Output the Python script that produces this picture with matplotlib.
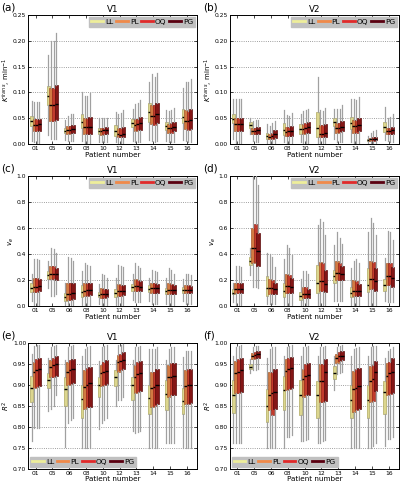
import numpy as np
import matplotlib
matplotlib.use("Agg")
import matplotlib.pyplot as plt
from matplotlib.lines import Line2D

patients = ["01", "05", "06", "08", "10", "12", "13", "14", "15", "16"]
methods = ["LL", "PL", "OQ", "PG"]

# each row: (whisker low, q1, median, q3, whisker high), one row per patient
ktrans_v1_LL = [(.005, .035, .045, .055, .083), (.018, .075, .093, .113, .172), (.008, .021, .025, .031, .046),
                (.005, .030, .042, .058, .100), (.003, .020, .025, .031, .050), (.003, .016, .025, .036, .062),
                (.005, .032, .040, .048, .067), (.008, .042, .062, .080, .120), (.005, .026, .034, .043, .066),
                (.008, .040, .053, .068, .108)]
ktrans_v1_PL = [(.003, .025, .037, .048, .082), (.010, .045, .075, .108, .200), (.005, .020, .026, .034, .055),
                (.002, .020, .032, .050, .093), (.003, .018, .025, .031, .050), (.001, .013, .020, .030, .058),
                (.003, .025, .037, .048, .077), (.005, .038, .055, .075, .135), (.003, .022, .030, .038, .063),
                (.005, .028, .045, .065, .120)]
ktrans_v1_OQ = [(.002, .025, .037, .048, .081), (.010, .045, .075, .108, .200), (.005, .021, .027, .035, .057),
                (.002, .020, .032, .050, .092), (.003, .019, .026, .031, .050), (.001, .013, .018, .030, .060),
                (.003, .026, .038, .049, .080), (.004, .037, .055, .075, .130), (.003, .022, .031, .040, .066),
                (.004, .027, .045, .063, .120)]
ktrans_v1_PG = [(.002, .025, .038, .048, .081), (.010, .046, .078, .115, .216), (.005, .022, .028, .037, .058),
                (.001, .019, .032, .052, .098), (.003, .020, .027, .033, .050), (.001, .013, .019, .032, .065),
                (.003, .027, .040, .053, .085), (.005, .040, .058, .080, .137), (.003, .024, .032, .042, .070),
                (.004, .028, .046, .068, .126)]

ktrans_v2_LL = [(.010, .040, .048, .058, .087), (.019, .030, .037, .043, .051), (.002, .010, .016, .022, .038),
                (.003, .018, .027, .040, .066), (.003, .020, .029, .038, .058), (.001, .014, .030, .062, .130),
                (.010, .035, .043, .050, .067), (.003, .028, .040, .053, .088), (.002, .005, .007, .010, .015),
                (.007, .023, .032, .043, .072)]
ktrans_v2_PL = [(.002, .025, .038, .050, .087), (.005, .019, .024, .031, .045), (.001, .010, .014, .020, .035),
                (.002, .016, .023, .033, .056), (.002, .020, .028, .038, .063), (.001, .013, .020, .036, .065),
                (.003, .022, .030, .040, .067), (.001, .022, .035, .047, .088), (.001, .006, .009, .012, .022),
                (.005, .019, .025, .030, .050)]
ktrans_v2_OQ = [(.001, .025, .038, .050, .087), (.004, .019, .025, .031, .046), (.001, .010, .016, .022, .040),
                (.001, .016, .024, .033, .055), (.002, .021, .030, .040, .066), (.001, .013, .020, .036, .064),
                (.003, .023, .031, .040, .068), (.001, .022, .034, .047, .085), (.001, .006, .009, .013, .025),
                (.004, .019, .025, .031, .053)]
ktrans_v2_PG = [(.001, .025, .038, .050, .087), (.004, .020, .026, .032, .047), (.001, .012, .019, .027, .045),
                (.001, .016, .025, .034, .060), (.002, .022, .032, .043, .068), (.001, .014, .022, .038, .070),
                (.003, .024, .033, .045, .075), (.001, .024, .037, .050, .090), (.001, .007, .010, .014, .027),
                (.004, .020, .027, .033, .057)]

ve_v1_LL = [(.04, .11, .14, .18, .25), (.14, .21, .24, .27, .35), (.005, .04, .07, .10, .18),
            (.01, .07, .11, .16, .27), (.02, .07, .085, .11, .17), (.01, .07, .10, .13, .22),
            (.05, .12, .145, .17, .25), (.04, .11, .13, .16, .22), (.02, .09, .115, .14, .22),
            (.04, .10, .125, .15, .21)]
ve_v1_PL = [(.01, .11, .15, .22, .36), (.08, .21, .245, .31, .45), (.005, .05, .095, .18, .38),
            (.01, .08, .12, .18, .33), (.01, .065, .095, .14, .25), (.01, .08, .115, .17, .32),
            (.03, .12, .155, .21, .33), (.02, .10, .14, .18, .28), (.01, .09, .125, .175, .29),
            (.02, .10, .125, .165, .25)]
ve_v1_OQ = [(.01, .11, .15, .22, .36), (.08, .21, .245, .31, .44), (.005, .05, .095, .18, .37),
            (.01, .08, .125, .18, .32), (.01, .065, .095, .135, .24), (.01, .08, .115, .165, .31),
            (.03, .12, .155, .20, .31), (.02, .10, .14, .175, .27), (.01, .09, .125, .17, .28),
            (.02, .10, .125, .16, .245)]
ve_v1_PG = [(.01, .115, .155, .21, .355), (.09, .20, .245, .29, .41), (.005, .055, .10, .175, .35),
            (.01, .085, .125, .175, .31), (.01, .07, .095, .13, .22), (.01, .085, .12, .16, .30),
            (.03, .12, .15, .19, .29), (.02, .10, .14, .17, .26), (.01, .09, .125, .16, .25),
            (.02, .10, .125, .155, .24)]

ve_v2_LL = [(.03, .09, .105, .13, .18), (.24, .32, .35, .38, .45), (.02, .08, .14, .23, .41),
            (.01, .07, .12, .18, .36), (.01, .05, .08, .11, .21), (.01, .10, .18, .32, .62),
            (.04, .18, .23, .28, .47), (.01, .07, .10, .15, .29), (.01, .11, .16, .29, .57),
            (.04, .12, .16, .21, .37)]
ve_v2_PL = [(.005, .10, .13, .18, .31), (.15, .33, .445, .60, 1.0), (.02, .09, .14, .21, .40),
            (.01, .10, .155, .25, .47), (.005, .06, .09, .15, .27), (.01, .12, .195, .34, .67),
            (.04, .20, .255, .35, .57), (.01, .08, .12, .20, .35), (.01, .13, .205, .35, .68),
            (.03, .16, .23, .33, .58)]
ve_v2_OQ = [(.005, .10, .13, .18, .31), (.15, .34, .45, .63, 1.0), (.02, .09, .14, .20, .38),
            (.01, .10, .155, .24, .45), (.005, .06, .095, .15, .27), (.01, .12, .195, .33, .65),
            (.04, .20, .255, .33, .52), (.01, .08, .12, .19, .36), (.01, .13, .205, .34, .64),
            (.03, .16, .23, .33, .57)]
ve_v2_PG = [(.005, .10, .13, .18, .30), (.14, .31, .42, .56, .93), (.02, .09, .13, .18, .30),
            (.01, .10, .15, .22, .39), (.005, .065, .095, .13, .25), (.01, .11, .17, .28, .55),
            (.04, .20, .245, .31, .48), (.01, .08, .12, .17, .33), (.01, .12, .195, .29, .55),
            (.03, .15, .22, .30, .51)]

r2_v1_LL = [(.767, .860, .893, .921, .974), (.837, .892, .912, .928, .965), (.752, .850, .890, .920, .960),
            (.750, .820, .866, .900, .970), (.795, .872, .900, .920, .958), (.850, .897, .920, .935, .960),
            (.790, .865, .900, .920, .960), (.750, .830, .868, .900, .985), (.762, .840, .878, .912, .960),
            (.750, .830, .862, .893, .967)]
r2_v1_PL = [(.797, .893, .932, .955, .993), (.843, .918, .944, .960, .990), (.810, .900, .932, .955, .990),
            (.750, .843, .895, .935, .985), (.810, .898, .928, .948, .990), (.865, .930, .955, .972, .995),
            (.785, .880, .920, .948, .990), (.750, .848, .893, .930, .985), (.762, .872, .918, .948, .985),
            (.750, .855, .898, .935, .980)]
r2_v1_OQ = [(.797, .895, .935, .962, .995), (.850, .920, .947, .965, .993), (.815, .902, .935, .960, .993),
            (.750, .847, .900, .940, .990), (.815, .900, .932, .955, .993), (.865, .935, .958, .975, .995),
            (.788, .883, .925, .955, .990), (.750, .850, .895, .932, .987), (.762, .875, .920, .952, .990),
            (.750, .855, .900, .938, .980)]
r2_v1_PG = [(.797, .897, .937, .965, .995), (.875, .922, .950, .970, .995), (.820, .905, .938, .963, .995),
            (.750, .848, .904, .943, .993), (.820, .902, .934, .960, .995), (.870, .937, .960, .978, .997),
            (.790, .885, .928, .958, .992), (.750, .855, .900, .938, .990), (.762, .877, .922, .953, .990),
            (.750, .857, .900, .938, .980)]

r2_v2_LL = [(.760, .833, .877, .912, .970), (.928, .937, .944, .950, .963), (.750, .812, .849, .890, .965),
            (.750, .840, .888, .922, .970), (.765, .827, .877, .912, .970), (.760, .820, .876, .910, .970),
            (.888, .915, .928, .945, .970), (.750, .822, .863, .900, .970), (.750, .820, .864, .900, .970),
            (.755, .830, .883, .910, .965)]
r2_v2_PL = [(.760, .880, .928, .958, .990), (.935, .963, .970, .977, .990), (.750, .840, .875, .930, .985),
            (.775, .888, .933, .962, .990), (.765, .870, .915, .938, .990), (.760, .858, .910, .950, .990),
            (.925, .953, .965, .975, .990), (.750, .836, .890, .933, .985), (.750, .858, .910, .945, .990),
            (.770, .875, .922, .952, .980)]
r2_v2_OQ = [(.760, .880, .932, .963, .993), (.935, .965, .972, .978, .992), (.750, .828, .880, .932, .990),
            (.775, .890, .937, .965, .993), (.768, .875, .922, .950, .990), (.765, .858, .910, .950, .990),
            (.928, .957, .968, .978, .993), (.750, .840, .893, .937, .988), (.755, .862, .913, .948, .992),
            (.770, .878, .928, .955, .985)]
r2_v2_PG = [(.760, .882, .935, .965, .995), (.937, .965, .973, .980, .993), (.750, .843, .882, .937, .990),
            (.780, .892, .940, .967, .995), (.770, .877, .923, .952, .993), (.768, .862, .932, .962, .993),
            (.930, .960, .970, .980, .995), (.750, .842, .897, .940, .990), (.760, .885, .932, .958, .993),
            (.775, .880, .932, .965, .990)]

fill_colors = ["#dcd68e", "#d27a42", "#c23a2c", "#841616"]
edge_colors = ["#b0aa60", "#a85a2a", "#962418", "#5a0a0a"]
legend_colors = ["#eeee9a", "#f08a4a", "#e02a2a", "#5a0010"]
offsets = [-0.23, -0.07, 0.08, 0.23]
widths = [0.16, 0.2, 0.2, 0.2]

panels = [
    ("(a)", "V1", [ktrans_v1_LL, ktrans_v1_PL, ktrans_v1_OQ, ktrans_v1_PG], "$K^{trans}$, min$^{-1}$", (0, 0.25), np.arange(0, 0.251, 0.05), "%.2f", "upper right"),
    ("(b)", "V2", [ktrans_v2_LL, ktrans_v2_PL, ktrans_v2_OQ, ktrans_v2_PG], "$K^{trans}$, min$^{-1}$", (0, 0.25), np.arange(0, 0.251, 0.05), "%.2f", "upper right"),
    ("(c)", "V1", [ve_v1_LL, ve_v1_PL, ve_v1_OQ, ve_v1_PG], "$v_e$", (0, 1.0), np.arange(0, 1.01, 0.2), "%.1f", "upper right"),
    ("(d)", "V2", [ve_v2_LL, ve_v2_PL, ve_v2_OQ, ve_v2_PG], "$v_e$", (0, 1.0), np.arange(0, 1.01, 0.2), "%.1f", "upper right"),
    ("(e)", "V1", [r2_v1_LL, r2_v1_PL, r2_v1_OQ, r2_v1_PG], "$R^2$", (0.70, 1.0), np.arange(0.70, 1.001, 0.05), "%.2f", "lower left"),
    ("(f)", "V2", [r2_v2_LL, r2_v2_PL, r2_v2_OQ, r2_v2_PG], "$R^2$", (0.70, 1.0), np.arange(0.70, 1.001, 0.05), "%.2f", "lower left"),
]

fig = plt.figure(figsize=(4.02, 4.86), dpi=100)
lefts = [0.07, 0.572]
bottoms = [0.704, 0.370, 0.036]
heights = [0.265, 0.268, 0.258]
width = 0.42

for k, (tag, title, series, ylabel, ylim, yticks, fmt, loc) in enumerate(panels):
    row, col = divmod(k, 2)
    ax = fig.add_axes([lefts[col], bottoms[row], width, heights[row]])
    pos = np.arange(1, len(patients) + 1)
    for m in range(len(methods)):
        stats = [dict(whislo=s[0], q1=s[1], med=s[2], q3=s[3], whishi=s[4]) for s in series[m]]
        ax.bxp(stats, positions=pos + offsets[m], widths=widths[m], patch_artist=True,
               showfliers=False, showcaps=False, manage_ticks=False,
               boxprops=dict(facecolor=fill_colors[m], edgecolor=edge_colors[m], linewidth=0.5),
               whiskerprops=dict(color="#a0a0a0", linewidth=0.9),
               medianprops=dict(color="black", linewidth=1.0), zorder=2 + m)
    ax.set_xlim(0.56, 10.6)
    ax.set_ylim(*ylim)
    ax.set_xticks(pos)
    ax.set_xticklabels(patients)
    ax.set_yticks(yticks)
    ax.set_yticklabels([fmt % v for v in yticks])
    ax.yaxis.grid(True, linestyle=":", color="#808080", linewidth=0.6)
    ax.set_axisbelow(True)
    ax.tick_params(direction="in", top=True, right=True, labelsize=4.3, length=2.5, width=0.5, pad=1.5)
    for sp in ax.spines.values():
        sp.set_linewidth(0.7)
    ax.set_xlabel("Patient number", fontsize=5.2, labelpad=0.5)
    ax.set_ylabel(ylabel, fontsize=5, labelpad=0.5)
    ax.set_title(title, fontsize=6.3, pad=2)
    ax.text(-0.16, 1.02, tag, transform=ax.transAxes, fontsize=7.5, ha="left", va="bottom")
    handles = [Line2D([], [], color=c, linewidth=2) for c in legend_colors]
    leg = ax.legend(handles, methods, loc=loc, ncol=4, fontsize=5.3, frameon=True,
                    handlelength=1.6, handletextpad=0.3, columnspacing=0.35,
                    borderpad=0.25, borderaxespad=0.25, fancybox=False)
    leg.get_frame().set_facecolor("#c0c0c0")
    leg.get_frame().set_edgecolor("#c0c0c0")
    leg.get_frame().set_alpha(1)

fig.savefig("out.png", dpi=100)
